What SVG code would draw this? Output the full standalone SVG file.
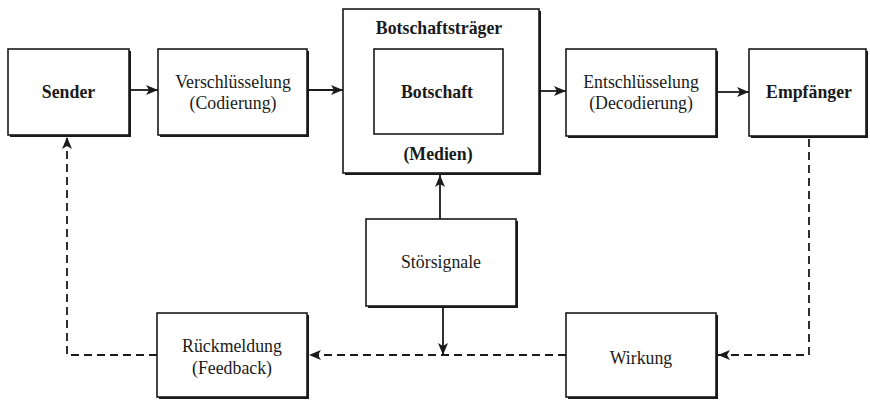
<svg xmlns="http://www.w3.org/2000/svg" width="870" height="400" viewBox="0 0 870 400">
<style>
.box{fill:#fff;stroke:#1a1a1a;stroke-width:1.6}
.sh{fill:#1a1a1a}
.t{font-family:"Liberation Serif","Times New Roman",serif;font-size:17.8px;fill:#1a1a1a;text-anchor:middle}
.b{font-weight:bold}
.ln{fill:none;stroke:#1a1a1a;stroke-width:1.8}
.d{stroke-dasharray:8 5}
</style>
<defs>
<marker id="ah" viewBox="0 0 12 10" refX="12" refY="5" markerWidth="12" markerHeight="10" markerUnits="userSpaceOnUse" orient="auto">
<path d="M0,0 L12,5 L0,10 L3,5 Z" fill="#1a1a1a"/>
</marker>
</defs>
<g id="sender">
<rect class="sh" x="10" y="51" width="121" height="86"/>
<rect class="box" x="8" y="49" width="121" height="86"/>
<text class="t b" x="68.5" y="98">Sender</text>
</g>
<g id="verschluesselung">
<rect class="sh" x="160" y="51" width="149" height="86"/>
<rect class="box" x="158" y="49" width="149" height="86"/>
<text class="t" x="233" y="88">Verschlüsselung</text>
<text class="t" x="233" y="109">(Codierung)</text>
</g>
<g id="botschaftstraeger">
<rect class="sh" x="345" y="11" width="196" height="164"/>
<rect class="box" x="343" y="9" width="196" height="164"/>
<text class="t b" x="439" y="34">Botschaftsträger</text>
<text class="t b" x="438" y="160">(Medien)</text>
</g>
<g id="botschaft">
<rect class="box" x="374" y="49" width="129" height="85" stroke-width="1.4"/>
<text class="t b" x="437" y="98">Botschaft</text>
</g>
<g id="entschluesselung">
<rect class="sh" x="568" y="51" width="150" height="87"/>
<rect class="box" x="566" y="49" width="150" height="87"/>
<text class="t" x="641" y="88">Entschlüsselung</text>
<text class="t" x="641" y="109">(Decodierung)</text>
</g>
<g id="empfaenger">
<rect class="sh" x="751" y="51" width="117" height="87"/>
<rect class="box" x="749" y="49" width="117" height="87"/>
<text class="t b" x="809" y="98">Empfänger</text>
</g>
<g id="stoersignale">
<rect class="sh" x="368" y="221" width="150" height="87"/>
<rect class="box" x="366" y="219" width="150" height="87"/>
<text class="t" x="441" y="268">Störsignale</text>
</g>
<g id="rueckmeldung">
<rect class="sh" x="159" y="315" width="150" height="84"/>
<rect class="box" x="157" y="313" width="150" height="84"/>
<text class="t" x="232" y="352">Rückmeldung</text>
<text class="t" x="232" y="374">(Feedback)</text>
</g>
<g id="wirkung">
<rect class="sh" x="568" y="315" width="150" height="84"/>
<rect class="box" x="566" y="313" width="150" height="84"/>
<text class="t" x="641" y="364">Wirkung</text>
</g>
<g id="connectors">
<line class="ln" x1="131" y1="90" x2="158" y2="90" marker-end="url(#ah)"/>
<line class="ln" x1="309" y1="90" x2="343" y2="90" marker-end="url(#ah)"/>
<line class="ln" x1="541" y1="91" x2="566" y2="91" marker-end="url(#ah)"/>
<line class="ln" x1="718" y1="92" x2="749" y2="92" marker-end="url(#ah)"/>
<line class="ln" x1="440" y1="219" x2="440" y2="175" marker-end="url(#ah)"/>
<line class="ln" x1="443" y1="308" x2="443" y2="355" marker-end="url(#ah)"/>
<polyline class="ln d" points="809,139 809,355 718,355" marker-end="url(#ah)"/>
<line class="ln d" x1="566" y1="355" x2="309" y2="355" marker-end="url(#ah)"/>
<polyline class="ln d" points="157,355 67,355 67,137" marker-end="url(#ah)"/>
</g>
</svg>
